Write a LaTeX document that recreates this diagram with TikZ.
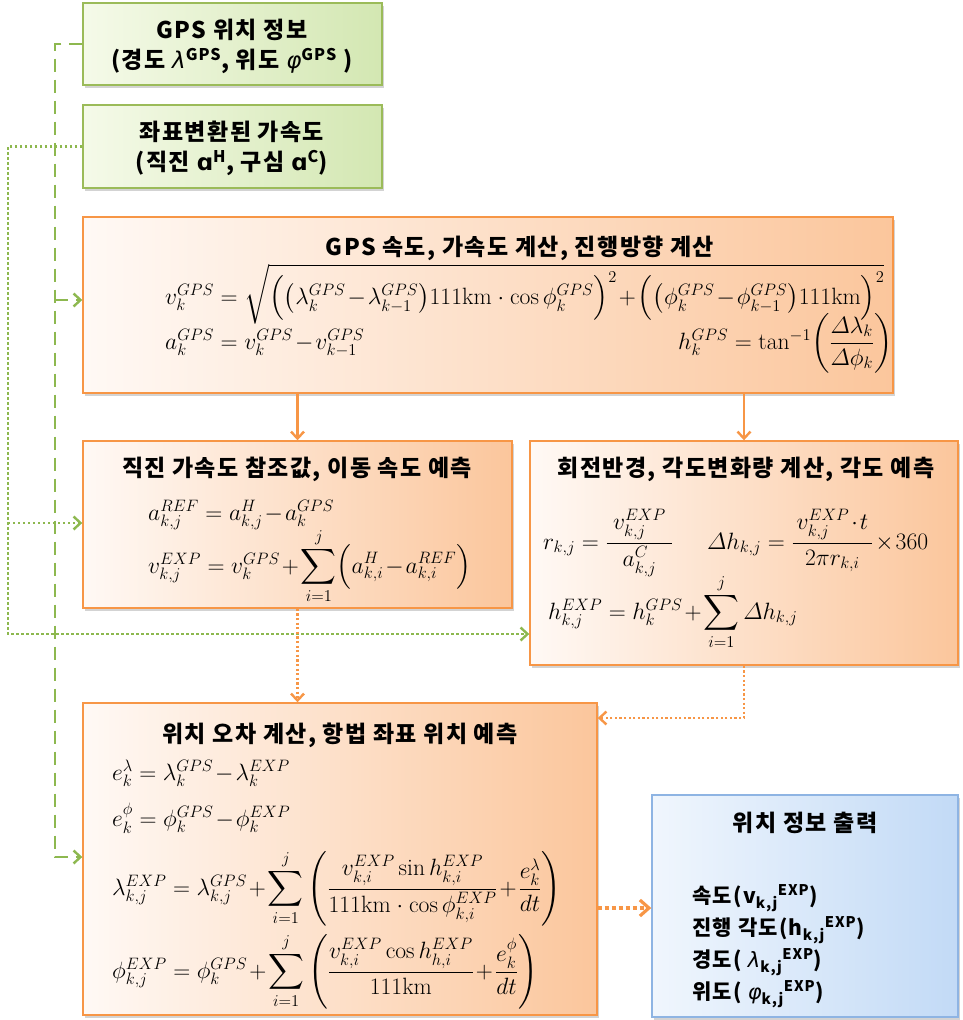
\RequirePackage{fix-cm}
\documentclass[tikz,border=0pt]{standalone}
\usepackage{amsmath}
\usepackage{fontspec}
\newfontfamily\kr[LetterSpace=6]{Noto Sans CJK KR}
\newfontfamily\dv{DejaVu Sans}
\usetikzlibrary{arrows.meta,shadows}
\definecolor{gB}{HTML}{9BBB59}
\definecolor{gL}{HTML}{F5FAE9}
\definecolor{gR}{HTML}{D3E7B2}
\definecolor{oB}{HTML}{F79646}
\definecolor{oL}{HTML}{FFF9F5}
\definecolor{oR}{HTML}{FBC69C}
\definecolor{bB}{HTML}{8EB4E3}
\definecolor{bL}{HTML}{F0F6FD}
\definecolor{bR}{HTML}{C2DAF6}
\definecolor{gLn}{HTML}{8DB84F}
\newcommand{\gk}[1]{{\dv\mdseries\itshape #1}}
\tikzset{
  box/.style={draw, line width=1.4pt, inner sep=0pt,
    drop shadow={opacity=0.35, shadow xshift=2pt, shadow yshift=-3pt}},
  gbox/.style={box, draw=gB, left color=gL, right color=gR},
  obox/.style={box, draw=oB, left color=oL, right color=oR},
  bbox/.style={box, draw=bB, left color=bL, right color=bR},
  ttl/.style={font=\kr\bfseries\fontsize{23}{27}\selectfont, inner sep=0pt},
  fm/.style={font=\fontsize{23.6}{27}\selectfont, inner sep=0pt, anchor=base west},
  barb/.style={-{Straight Barb[length=7pt,width=13pt,line width=2.4pt]}},
  gdash/.style={draw=gLn, line width=2.4pt, dash pattern=on 13pt off 8pt, barb},
  gdot/.style={draw=gLn, line width=2.4pt, dash pattern=on 2.4pt off 2.6pt, barb},
  osolid/.style={draw=oB, line width=2.4pt, barb},
  odot/.style={draw=oB, line width=2.2pt, dash pattern=on 2.2pt off 2.4pt, barb},
  odotb/.style={draw=oB, line width=3.2pt, dash pattern=on 4pt off 3pt,
    -{Straight Barb[length=9pt,width=16pt,line width=3.2pt]}},
}
\begin{document}
\medmuskip=1.5mu plus 1mu minus 1mu
\begin{tikzpicture}[x=1pt,y=-1pt]
\useasboundingbox (0,0) rectangle (962,1020);
% boxes
\node[gbox, minimum width=299pt, minimum height=82pt] (b1) at (232.5,44) {};
\node[gbox, minimum width=299pt, minimum height=83pt] (b2) at (232.5,146.5) {};
\node[obox, minimum width=810pt, minimum height=176pt] (b3) at (488,305) {};
\node[obox, minimum width=429pt, minimum height=167pt] (b4) at (297.5,524.5) {};
\node[obox, minimum width=428pt, minimum height=224pt] (b5) at (744,553) {};
\node[obox, minimum width=514pt, minimum height=312pt] (b6) at (340,859) {};
\node[bbox, minimum width=306pt, minimum height=222pt] (b7) at (805,906) {};
% box 1 and 2 text
\node[ttl] (t1a) at (232,30) {GPS 위치 정보};
\node[ttl] (t1b) at (232,61) {(경도 \gk{λ}\textsuperscript{GPS}, 위도 \gk{φ}\textsuperscript{GPS} )};
\node[ttl] (t2a) at (232,132) {좌표변환된 가속도};
\node[ttl] (t2b) at (232,163) {(직진 {\dv ɑ}\textsuperscript{H}, 구심 {\dv ɑ}\textsuperscript{C})};
% box 3
\node[ttl] (t3) at (520,248) {GPS 속도, 가속도 계산, 진행방향 계산};
\node[fm] (f3a) at (165,304) {$v_k^{GPS}=\sqrt{\Bigl(\bigl(\lambda_k^{GPS}-\lambda_{k-1}^{GPS}\bigr)111\mathrm{km}\,\cdot\,\cos\phi_k^{GPS}\Bigr)^2+\Bigl(\bigl(\phi_k^{GPS}-\phi_{k-1}^{GPS}\bigr)111\mathrm{km}\Bigr)^2}$};
\node[fm] (f3b) at (165,349) {$a_k^{GPS}=v_k^{GPS}-v_{k-1}^{GPS}$};
\node[fm] (f3c) at (678,349) {$h_k^{GPS}=\tan^{-1}\!\left(\dfrac{\varDelta\lambda_k}{\varDelta\phi_k}\right)$};
% box 4
\node[ttl] (t4) at (297,469) {직진 가속도 참조값, 이동 속도 예측};
\node[fm] (f4a) at (148,520) {$a_{k,j}^{REF}=a_{k,j}^{H}-a_k^{GPS}$};
\node[fm] (f4b) at (148,573) {$v_{k,j}^{EXP}=v_k^{GPS}+\displaystyle\sum_{i=1}^{j}\Bigl(a_{k,i}^{H}-a_{k,i}^{REF}\Bigr)$};
% box 5
\node[ttl] (t5) at (746,469) {회전반경, 각도변화량 계산, 각도 예측};
\node[fm] (f5a) at (543,549) {$r_{k,j}=\dfrac{\;v_{k,j}^{EXP}\;}{a_{k,j}^{C}}$};
\node[fm] (f5c) at (707,549) {$\varDelta h_{k,j}=\dfrac{\,v_{k,j}^{EXP}\cdot t\,}{2\pi r_{k,i}}\times 360$};
\node[fm] (f5b) at (548,619) {$h_{k,j}^{EXP}=h_k^{GPS}+\displaystyle\sum_{i=1}^{j}\varDelta h_{k,j}$};
% box 6
\node[ttl] (t6) at (340,735) {위치 오차 계산, 항법 좌표 위치 예측};
\node[fm] (f6a) at (112,780) {$e_k^{\lambda}=\lambda_k^{GPS}-\lambda_k^{EXP}$};
\node[fm] (f6b) at (112,826) {$e_k^{\phi}=\phi_k^{GPS}-\phi_k^{EXP}$};
\node[fm] (f6c) at (112,895) {$\lambda_{k,j}^{EXP}=\lambda_{k,j}^{GPS}+\displaystyle\sum_{i=1}^{j}\left(\frac{v_{k,i}^{EXP}\sin h_{k,i}^{EXP}}{111\mathrm{km}\,\cdot\,\cos\phi_{k,i}^{EXP}}+\frac{e_k^{\lambda}}{dt}\right)$};
\node[fm] (f6d) at (112,978) {$\phi_{k,j}^{EXP}=\phi_k^{GPS}+\displaystyle\sum_{i=1}^{j}\left(\frac{v_{k,i}^{EXP}\cos h_{h,i}^{EXP}}{111\mathrm{km}}+\frac{e_k^{\phi}}{dt}\right)$};
% box 7
\node[ttl] (t7) at (805,823) {위치 정보 출력};
\node[ttl, anchor=west, align=left, font=\kr\bfseries\fontsize{21}{32}\selectfont] (t7b) at (692,946)
 {속도(v\textsubscript{k,j}\textsuperscript{EXP})\\
  진행 각도(h\textsubscript{k,j}\textsuperscript{EXP})\\
  경도( \gk{λ}\textsubscript{k,j}\textsuperscript{EXP})\\
  위도( \gk{φ}\textsubscript{k,j}\textsuperscript{EXP})};
% connector helper coordinates
\coordinate (gL) at (55,857);
\coordinate (g3) at (55,300);
\coordinate (dL) at (8,634);
\coordinate (d4) at (8,523);
\coordinate (y7) at (0,718);
\coordinate (y8) at (0,908);
% green connectors
\draw[gdash] (b1.west) -| (gL) -- (b6.west |- gL);
\draw[gdash] (g3) -- (b3.west |- g3);
\draw[gdot] (b2.west) -| (dL) -- (b5.west |- dL);
\draw[gdot] (d4) -- (b4.west |- d4);
% orange connectors
\draw[osolid] (b3.south -| b4.north) -- (b4.north);
\draw[osolid] (b3.south -| b5.north) -- (b5.north);
\draw[odot] (b4.south) -- (b6.north -| b4.south);
\draw[odot, line width=1.8pt] (b5.south) |- (b6.east |- y7);
\draw[odotb] (b6.east |- y8) -- (b7.west |- y8);
\end{tikzpicture}
\end{document}
